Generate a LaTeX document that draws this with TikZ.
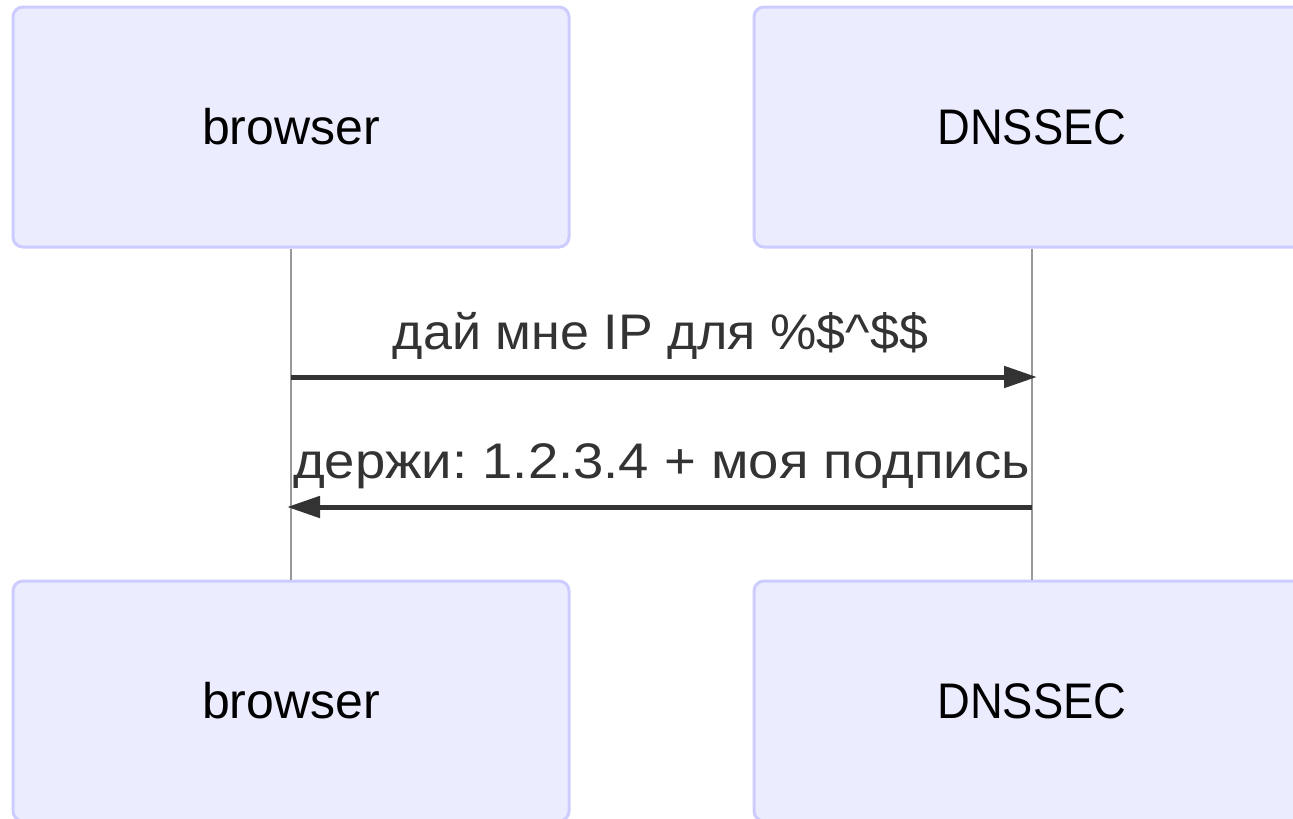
\documentclass[tikz,border=0pt]{standalone}
\usepackage{fontspec}
\usepackage{graphicx}
\setmainfont{Liberation Sans}
\frenchspacing
\usetikzlibrary{arrows.meta}
\definecolor{actorfill}{HTML}{ECECFF}
\definecolor{actorline}{HTML}{CCCCFF}
\definecolor{ink}{HTML}{333333}
\definecolor{lifegray}{HTML}{999999}
% stretch text horizontally to a given width, keeping its height
\newcommand{\fitw}[2]{\resizebox{#1}{\height}{#2}}
\tikzset{
  actor/.style={draw=actorline, fill=actorfill, line width=3pt,
    rounded corners=10pt, minimum width=556pt, minimum height=240pt,
    inner sep=0pt, text=black, font=\fontsize{50}{60}\selectfont},
  lifeline/.style={draw=lifegray, line width=1.8pt},
  msg/.style={draw=ink, line width=5pt,
    -{Triangle[length=33pt,width=21pt]}},
  msglabel/.style={text=ink, inner sep=0pt, font=\fontsize{50}{60}\selectfont}
}
\begin{document}
\begin{tikzpicture}[x=1pt,y=-1pt]
  \useasboundingbox (0,0) rectangle (1293,819);
  % participants, top and bottom
  \node[actor] (bt) at (291,127) {browser};
  \node[actor] (dt) at (1032,127) {\fitw{189pt}{DNSSEC}};
  \node[actor] (bb) at (291,701) {browser};
  \node[actor] (db) at (1032,701) {\fitw{189pt}{DNSSEC}};
  % lifelines
  \draw[lifeline] (bt.south) -- (bb.north);
  \draw[lifeline] (dt.south) -- (db.north);
  % message endpoints on the lifelines
  \coordinate (q1) at (bt.south |- 0,377);
  \coordinate (q2) at ([xshift=5pt]dt.south |- 0,377);
  \coordinate (r1) at (dt.south |- 0,507);
  \coordinate (r2) at ([xshift=-4pt]bt.south |- 0,507);
  \draw[msg] (q1) -- (q2);
  \draw[msg] (r1) -- (r2);
  \node[msglabel] (l1) at (660.5,336) {\fitw{535pt}{дай мне IP для \%\$\^{}\$\$}};
  \node[msglabel] (l2) at (661.5,466) {\fitw{737pt}{держи: 1.2.3.4 + моя подпись}};
\end{tikzpicture}
\end{document}
